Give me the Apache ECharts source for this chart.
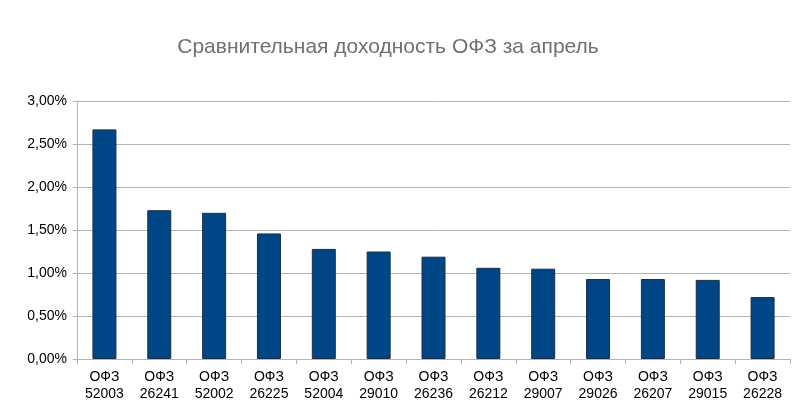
<!DOCTYPE html>
<html><head><meta charset="utf-8">
<script src="https://cdn.jsdelivr.net/npm/echarts@6/dist/echarts.min.js"></script>
<style>html,body{margin:0;padding:0;background:#fff}#show{width:807px;height:413px}</style>
</head><body><div id="show"></div>
<script>
var categories = ['ОФЗ\n52003','ОФЗ\n26241','ОФЗ\n52002','ОФЗ\n26225','ОФЗ\n52004','ОФЗ\n29010','ОФЗ\n26236','ОФЗ\n26212','ОФЗ\n29007','ОФЗ\n29026','ОФЗ\n26207','ОФЗ\n29015','ОФЗ\n26228'];
var values = [2.67, 1.73, 1.70, 1.46, 1.28, 1.25, 1.19, 1.06, 1.05, 0.93, 0.93, 0.92, 0.72];

var myChart = echarts.init(document.getElementById('show'));
var option = {
    animation: false,
    title: {
        text: 'Сравнительная доходность ОФЗ за апрель',
        left: 383, top: 32, textAlign: 'center',
        textStyle: {color: '#707070', fontSize: 21, fontWeight: 'normal', fontFamily: 'Liberation Sans'}
    },
    grid: {left: 77, right: 17, top: 101, bottom: 54},
    xAxis: {
        type: 'category', data: categories,
        axisLine: {lineStyle: {color: '#b3b3b3'}},
        axisTick: {show: true, alignWithLabel: false, lineStyle: {color: '#b3b3b3'}},
        axisLabel: {color: '#000', fontSize: 14, lineHeight: 17, fontFamily: 'Liberation Sans', interval: 0, margin: 10}
    },
    yAxis: {
        type: 'value', min: 0, max: 3, interval: 0.5,
        axisLine: {show: true, lineStyle: {color: '#b3b3b3'}},
        axisTick: {show: true, length: 4, lineStyle: {color: '#b3b3b3'}},
        splitLine: {lineStyle: {color: '#b3b3b3'}},
        axisLabel: {color: '#000', fontSize: 14, fontFamily: 'Liberation Sans', margin: 10,
            formatter: function(v){ return v.toFixed(2).replace('.', ',') + '%'; }}
    },
    series: [{
        type: 'bar', data: values, barWidth: 24,
        itemStyle: {color: '#004586', borderColor: '#1c2f45', borderWidth: 1}
    }]
};
myChart.setOption(option);
</script></body></html>
